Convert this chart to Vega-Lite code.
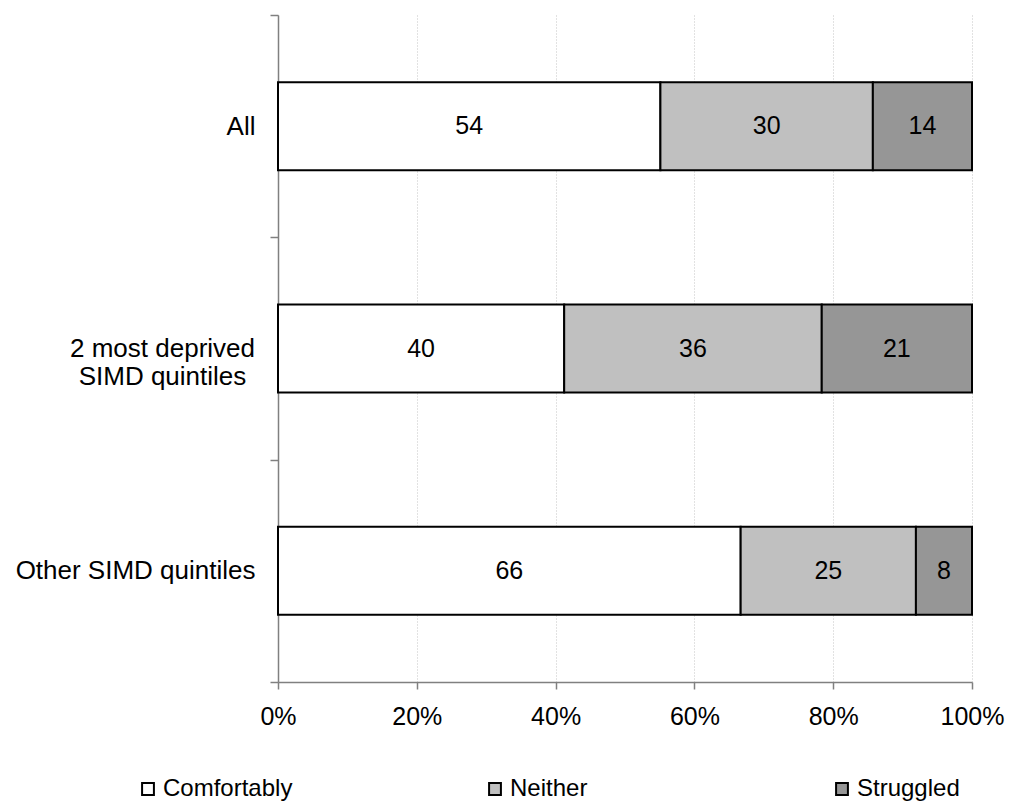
{
  "$schema": "https://vega.github.io/schema/vega-lite/v6.json",
  "width": 694,
  "height": 667,
  "autosize": {"type": "none"},
  "padding": {"left": 278, "top": 15, "right": 38, "bottom": 119},
  "background": "white",
  "data": {
    "values": [
      {"group": "All", "category": "Comfortably", "value": 54, "order": 1},
      {"group": "All", "category": "Neither", "value": 30, "order": 2},
      {"group": "All", "category": "Struggled", "value": 14, "order": 3},
      {"group": "2 most deprived SIMD quintiles", "category": "Comfortably", "value": 40, "order": 1},
      {"group": "2 most deprived SIMD quintiles", "category": "Neither", "value": 36, "order": 2},
      {"group": "2 most deprived SIMD quintiles", "category": "Struggled", "value": 21, "order": 3},
      {"group": "Other SIMD quintiles", "category": "Comfortably", "value": 66, "order": 1},
      {"group": "Other SIMD quintiles", "category": "Neither", "value": 25, "order": 2},
      {"group": "Other SIMD quintiles", "category": "Struggled", "value": 8, "order": 3}
    ]
  },
  "transform": [
    {"stack": "value", "groupby": ["group"], "sort": [{"field": "order", "order": "ascending"}], "offset": "normalize", "as": ["x0", "x1"]},
    {"calculate": "(datum.x0 + datum.x1) / 2", "as": "mid"}
  ],
  "config": {
    "view": {"stroke": null},
    "font": "Liberation Sans",
    "axis": {
      "domainColor": "#808080",
      "domainWidth": 1.5,
      "tickColor": "#808080",
      "tickWidth": 1.5,
      "labelColor": "black",
      "labelFont": "Liberation Sans"
    }
  },
  "encoding": {
    "y": {
      "field": "group",
      "type": "nominal",
      "sort": ["All", "2 most deprived SIMD quintiles", "Other SIMD quintiles"],
      "scale": {"paddingInner": 0, "paddingOuter": 0},
      "axis": {
        "title": null,
        "tickBand": "extent",
        "tickSize": 8,
        "labelFontSize": 26,
        "labelAlign": {"condition": {"test": "datum.value == '2 most deprived SIMD quintiles'", "value": "center"}, "value": "right"},
        "labelPadding": {"condition": {"test": "datum.value == '2 most deprived SIMD quintiles'", "value": 108}, "value": 15},
        "labelLineHeight": 28,
        "labelLimit": 400,
        "grid": false,
        "labelExpr": "datum.value == '2 most deprived SIMD quintiles' ? ['2 most deprived', 'SIMD quintiles'] : datum.value"
      }
    }
  },
  "layer": [
    {
      "mark": {"type": "bar", "stroke": "black", "strokeWidth": 2, "size": 88},
      "encoding": {
        "x": {
          "field": "x0",
          "type": "quantitative",
          "scale": {"domain": [0, 1], "nice": false},
          "axis": {
            "title": null,
            "format": "%",
            "values": [0, 0.2, 0.4, 0.6, 0.8, 1],
            "tickSize": 7,
            "labelFontSize": 25,
            "labelPadding": 15,
            "labelFlush": false,
            "labelOverlap": false,
            "labelBound": false,
            "grid": true,
            "gridColor": "#c4c4c4",
            "gridDash": [1, 2],
            "gridWidth": 1
          }
        },
        "x2": {"field": "x1"},
        "color": {
          "field": "category",
          "type": "nominal",
          "sort": ["Comfortably", "Neither", "Struggled"],
          "scale": {"domain": ["Comfortably", "Neither", "Struggled"], "range": ["#ffffff", "#c0c0c0", "#969696"]},
          "legend": {
            "title": null,
            "orient": "none",
            "legendX": -142,
            "legendY": 762,
            "padding": 0,
            "direction": "horizontal",
            "columns": 3,
            "columnPadding": 190,
            "gridAlign": "all",
            "symbolType": "square",
            "symbolSize": 140,
            "symbolStrokeColor": "black",
            "symbolStrokeWidth": 2,
            "symbolOpacity": 1,
            "labelFontSize": 24,
            "labelOffset": 3,
            "labelColor": "black",
            "labelFont": "Liberation Sans"
          }
        }
      }
    },
    {
      "mark": {"type": "text", "fontSize": 25, "color": "black", "align": "center", "baseline": "middle"},
      "encoding": {
        "x": {"field": "mid", "type": "quantitative"},
        "text": {"field": "value", "type": "quantitative"}
      }
    }
  ]
}
